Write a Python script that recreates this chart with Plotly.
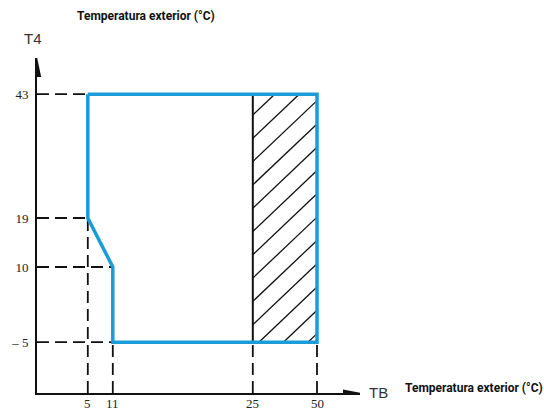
import numpy as np
import plotly.graph_objects as go

# ---------------- data ----------------
tb_ticks = [5, 11, 25, 50]            # outdoor temperature TB (°C)
t4_ticks = [-5, 10, 19, 43]           # outdoor temperature T4 (°C)
tb_labels = ["5", "11", "25", "50"]
t4_labels = ["\u2013 5", "10", "19", "43"]

# operating boundary (TB, T4)
boundary_tb = [5, 50, 50, 11, 11, 5, 5]
boundary_t4 = [43, 43, -5, -5, 10, 19, 43]

# hatched zone
hatch_tb = [25, 50]
hatch_t4 = [-5, 43]

# guide lines: horizontal (T4 value, TB end) and vertical (TB value, T4 start)
guide_h_t4 = [43, 19, 10, -5]
guide_h_tb = [5, 5, 11, 11]
guide_v_tb = [5, 11, 25, 50]
guide_v_t4 = [19, -5, -5, -5]

# ------------- layout: non-linear axis scale (px from origin) -------------
tb_pos = [50.8, 75.8, 215.8, 280.0]
t4_pos = [50.8, 126.0, 175.0, 298.8]


def sx(v):
    return np.interp(v, tb_ticks, tb_pos)


def sy(v):
    return np.interp(v, t4_ticks, t4_pos)


W, H = 544, 412
ML, MT, MR, MB = 37, 58, 184, 19
PW, PH = W - ML - MR, H - MT - MB


def px(xp):
    return (xp - ML) / PW


def py(yp):
    return (H - MB - yp) / PH


fig = go.Figure()

DASH = "12px,6px"
# horizontal guides
for t4, tb in zip(guide_h_t4, guide_h_tb):
    fig.add_trace(go.Scatter(x=[0, sx(tb)], y=[sy(t4), sy(t4)], mode="lines",
                             line=dict(color="#111", width=1.8, dash=DASH),
                             hoverinfo="skip", showlegend=False))
# vertical guides
for tb, t4 in zip(guide_v_tb, guide_v_t4):
    fig.add_trace(go.Scatter(x=[sx(tb), sx(tb)], y=[0, sy(t4)], mode="lines",
                             line=dict(color="#111", width=1.8, dash=DASH),
                             hoverinfo="skip", showlegend=False))

# hatch lines
X0, X1 = sx(hatch_tb[0]), sx(hatch_tb[1])
Y0, Y1 = sy(hatch_t4[0]), sy(hatch_t4[1])
m = 0.95
step = 23.3
c_start = (H - MB) - 115  # first line intercept on the left edge
hx, hy = [], []
k = -6
while True:
    c = c_start - k * step
    if c < Y0 - m * (X1 - X0) - step:
        break
    x_lo = max(X0, X0 + (Y0 - c) / m)
    x_hi = min(X1, X0 + (Y1 - c) / m)
    if x_lo < x_hi:
        hx += [x_lo, x_hi, None]
        hy += [c + m * (x_lo - X0), c + m * (x_hi - X0), None]
    k += 1
fig.add_trace(go.Scatter(x=hx, y=hy, mode="lines",
                         line=dict(color="#111", width=1.3),
                         hoverinfo="skip", showlegend=False))

# solid black line at left of hatch zone
fig.add_trace(go.Scatter(x=[X0, X0], y=[Y0, Y1], mode="lines",
                         line=dict(color="#111", width=2),
                         hoverinfo="skip", showlegend=False))

# blue boundary
fig.add_trace(go.Scatter(x=sx(boundary_tb), y=sy(boundary_t4), mode="lines",
                         line=dict(color="#1B9BD8", width=3.5),
                         hoverinfo="skip", showlegend=False))

# arrow heads
shapes = [
    dict(type="path", xref="x", yref="y",
         path=f"M -4.2 {PH-19} L 0 {PH+1} L 4.2 {PH-19} Z",
         fillcolor="#111", line=dict(color="#111", width=0)),
    dict(type="path", xref="x", yref="y",
         path=f"M {PW-17} -3.5 L {PW+1} 0 L {PW-17} 3.5 Z",
         fillcolor="#111", line=dict(color="#111", width=0)),
]

title_font = dict(family="Roboto, sans-serif", size=12, color="#111", weight="bold")
axis_font = dict(family="Liberation Sans, Arial, sans-serif", size=15, color="#333")
tick_font = dict(family="Liberation Serif, Times New Roman, serif", size=13, color="#222")

annotations = [
    dict(text="Temperatura exterior (°C)", x=px(146), y=py(16), xref="paper", yref="paper",
         showarrow=False, font=title_font, xanchor="center", yanchor="middle"),
    dict(text="Temperatura exterior (°C)", x=px(474), y=py(388), xref="paper", yref="paper",
         showarrow=False, font=title_font, xanchor="center", yanchor="middle"),
    dict(text="T4", x=px(33), y=py(38), xref="paper", yref="paper",
         showarrow=False, font=axis_font, xanchor="center", yanchor="middle"),
    dict(text="TB", x=px(378), y=py(392), xref="paper", yref="paper",
         showarrow=False, font=axis_font, xanchor="center", yanchor="middle"),
]
# x tick labels placed just under the axis
for v, lab in zip(tb_ticks, tb_labels):
    annotations.append(dict(text=lab, x=float(sx(v)), y=py(403.5), xref="x", yref="paper",
                            showarrow=False, font=tick_font, xanchor="center",
                            yanchor="middle"))

fig.update_layout(
    width=W, height=H,
    margin=dict(l=ML, r=MR, t=MT, b=MB, pad=0, autoexpand=False),
    paper_bgcolor="white", plot_bgcolor="white",
    shapes=shapes, annotations=annotations,
    xaxis=dict(range=[0, PW], showgrid=False, zeroline=False, showline=True,
               linecolor="#111", linewidth=2, ticks="", automargin=False,
               tickvals=list(sx(tb_ticks)), showticklabels=False,
               fixedrange=True),
    yaxis=dict(range=[0, PH], showgrid=False, zeroline=False, showline=True,
               linecolor="#111", linewidth=2, ticks="", automargin=False,
               tickvals=list(sy(t4_ticks)), ticktext=t4_labels, tickfont=tick_font,
               fixedrange=True, ticklabelstandoff=4),
    showlegend=False,
)

fig.write_html("out.html", config={"displayModeBar": False},
               post_script="document.body.style.margin='0';document.body.style.overflow='hidden';")
